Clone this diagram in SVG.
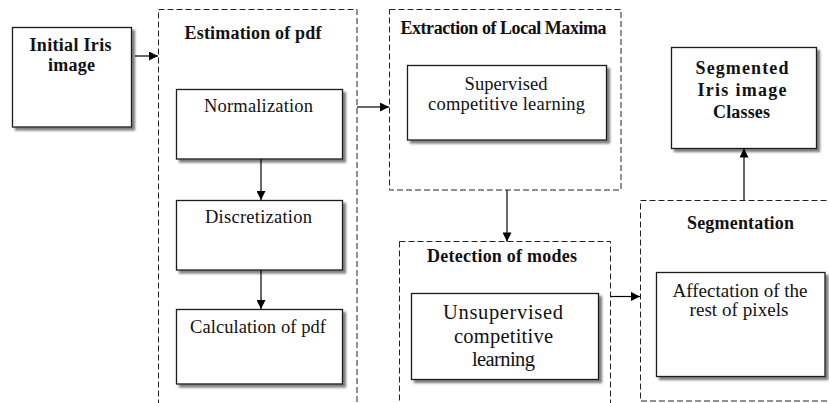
<svg xmlns="http://www.w3.org/2000/svg" width="829" height="403" viewBox="0 0 829 403">
  <defs>
    <filter id="shadow" x="-10%" y="-10%" width="130%" height="130%">
      <feDropShadow dx="3" dy="3" stdDeviation="0.8" flood-color="#555" flood-opacity="0.75"/>
    </filter>
    <marker id="arrow" viewBox="0 0 10 10" refX="10" refY="5" markerWidth="10" markerHeight="9" markerUnits="userSpaceOnUse" orient="auto">
      <path d="M0,0 L10,5 L0,10 Z" fill="#000"/>
    </marker>
  </defs>
  <style>
    .box { fill: #fff; stroke: #1a1a1a; stroke-width: 1.3; filter: url(#shadow); }
    .group { fill: none; stroke: #222; stroke-width: 1; stroke-dasharray: 6 3; }
    .t { font-family: "Liberation Serif", "Times New Roman", serif; fill: #111; text-anchor: middle; }
    .n { font-size: 18.5px; }
    .b { font-size: 18px; font-weight: bold; }
    .edge { fill: none; stroke: #000; stroke-width: 1.2; marker-end: url(#arrow); }
  </style>
  <rect width="829" height="403" fill="#fff"/>

  <!-- dashed stage groups -->
  <g id="estimation">
    <rect class="group" x="158.5" y="9.5" width="198.5" height="400"/>
    <text class="t b" x="253" y="39" textLength="137" lengthAdjust="spacing">Estimation of pdf</text>
  </g>
  <g id="extraction">
    <rect class="group" x="389.5" y="9.5" width="231.5" height="180.5"/>
    <text class="t b" x="503.5" y="34" font-size="16.5" textLength="206" lengthAdjust="spacing">Extraction of Local Maxima</text>
  </g>
  <g id="detection">
    <rect class="group" x="399.5" y="241.5" width="211" height="170"/>
    <text class="t b" x="502" y="261.5" textLength="150" lengthAdjust="spacing">Detection of modes</text>
  </g>
  <g id="segmentation">
    <rect class="group" x="640.5" y="200.5" width="200" height="200.5"/>
    <text class="t b" x="740.5" y="229" textLength="107" lengthAdjust="spacing">Segmentation</text>
  </g>

  <!-- process boxes -->
  <g id="initial-iris">
    <rect class="box" x="12.5" y="27.5" width="119" height="99.5"/>
    <text class="t b" x="70.5" y="50.5" font-size="18.5" textLength="82" lengthAdjust="spacing">Initial Iris</text>
    <text class="t b" x="71.5" y="71" font-size="18.5" textLength="47" lengthAdjust="spacing">image</text>
  </g>
  <g id="normalization">
    <rect class="box" x="176.5" y="89.5" width="166" height="69.5"/>
    <text class="t n" x="258.5" y="112" textLength="109" lengthAdjust="spacing">Normalization</text>
  </g>
  <g id="discretization">
    <rect class="box" x="176.5" y="200.5" width="166" height="69.5"/>
    <text class="t n" x="258.5" y="223" textLength="107" lengthAdjust="spacing">Discretization</text>
  </g>
  <g id="calculation">
    <rect class="box" x="176.5" y="309.5" width="166" height="74.5"/>
    <text class="t n" x="258" y="333" textLength="136" lengthAdjust="spacing">Calculation of pdf</text>
  </g>
  <g id="supervised">
    <rect class="box" x="407.5" y="65.5" width="199" height="74.5"/>
    <text class="t n" x="506" y="90" textLength="83" lengthAdjust="spacing">Supervised</text>
    <text class="t n" x="506.5" y="110" textLength="157" lengthAdjust="spacing">competitive learning</text>
  </g>
  <g id="unsupervised">
    <rect class="box" x="411.5" y="293.5" width="187" height="86"/>
    <text class="t" font-size="20.5" x="503" y="318.5" textLength="120" lengthAdjust="spacing">Unsupervised</text>
    <text class="t" font-size="20.5" x="503.5" y="342.5" textLength="99" lengthAdjust="spacing">competitive</text>
    <text class="t" font-size="20.5" x="503.5" y="365.5" textLength="63" lengthAdjust="spacing">learning</text>
  </g>
  <g id="affectation">
    <rect class="box" x="656.5" y="272.5" width="168.5" height="104"/>
    <text class="t" font-size="19" x="740" y="297" textLength="135" lengthAdjust="spacing">Affectation of the</text>
    <text class="t" font-size="19" x="739" y="316" textLength="99" lengthAdjust="spacing">rest of pixels</text>
  </g>
  <g id="segmented-iris">
    <rect class="box" x="671.5" y="47.5" width="145" height="101"/>
    <text class="t b" x="742" y="74" font-size="19.5" textLength="93" lengthAdjust="spacing">Segmented</text>
    <text class="t b" x="742" y="96" font-size="19.5" textLength="89" lengthAdjust="spacing">Iris image</text>
    <text class="t b" x="741.5" y="118" font-size="18" textLength="57" lengthAdjust="spacing">Classes</text>
  </g>

  <!-- connectors -->
  <g id="connectors">
    <line class="edge" x1="135" y1="56" x2="158" y2="56"/>
    <line class="edge" x1="261" y1="159" x2="261" y2="200"/>
    <line class="edge" x1="261" y1="270" x2="261" y2="309"/>
    <line class="edge" x1="357" y1="107" x2="389" y2="107"/>
    <line class="edge" x1="507" y1="190" x2="507" y2="241.5"/>
    <line class="edge" x1="611" y1="296.5" x2="640" y2="296.5"/>
    <line class="edge" x1="744" y1="200" x2="744" y2="148.5"/>
  </g>
</svg>
